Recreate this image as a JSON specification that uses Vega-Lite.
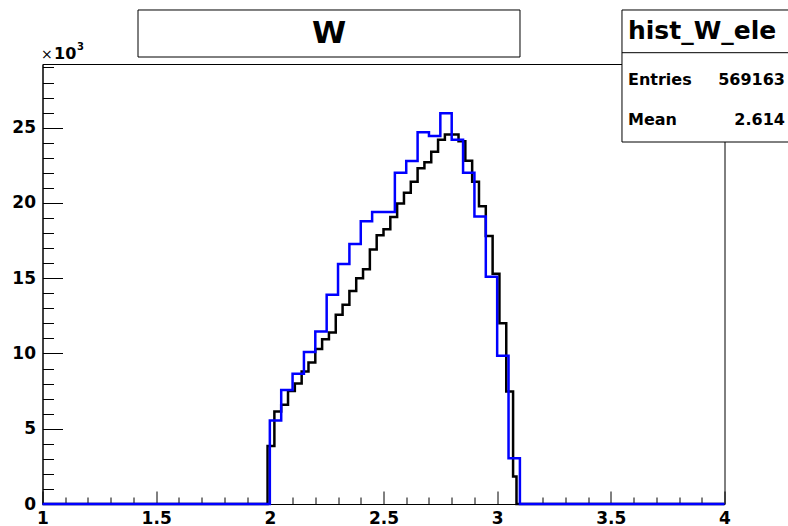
{
  "$schema": "https://vega.github.io/schema/vega-lite/v6.json",
  "width": 682,
  "height": 440,
  "autosize": {"type": "none"},
  "padding": {"left": 42.5, "top": 64, "right": 63.5, "bottom": 22},
  "background": "white",
  "config": {
    "view": {"stroke": "black", "strokeWidth": 1},
    "axis": {
      "domainColor": "black", "domainWidth": 1, "tickColor": "black", "tickWidth": 1,
      "labelColor": "black", "labelFont": "DejaVu Sans", "labelFontWeight": "bold", "labelFontSize": 17,
      "grid": false, "title": null
    }
  },
  "datasets": {
    "black": [
      {"x": 1.0, "count": 0},
      {"x": 1.99, "count": 3850},
      {"x": 2.02, "count": 6140},
      {"x": 2.05, "count": 6600},
      {"x": 2.08, "count": 7500},
      {"x": 2.11, "count": 8000},
      {"x": 2.14, "count": 8800},
      {"x": 2.17, "count": 9400},
      {"x": 2.20, "count": 10300},
      {"x": 2.23, "count": 10950},
      {"x": 2.26, "count": 11400},
      {"x": 2.29, "count": 12570},
      {"x": 2.32, "count": 13240},
      {"x": 2.35, "count": 14150},
      {"x": 2.38, "count": 15000},
      {"x": 2.41, "count": 15600},
      {"x": 2.44, "count": 16900},
      {"x": 2.47, "count": 17850},
      {"x": 2.50, "count": 18250},
      {"x": 2.53, "count": 19070},
      {"x": 2.56, "count": 19970},
      {"x": 2.59, "count": 20670},
      {"x": 2.62, "count": 21400},
      {"x": 2.65, "count": 22300},
      {"x": 2.68, "count": 22700},
      {"x": 2.71, "count": 23400},
      {"x": 2.74, "count": 24200},
      {"x": 2.77, "count": 24550},
      {"x": 2.80, "count": 24550},
      {"x": 2.83, "count": 24100},
      {"x": 2.86, "count": 22800},
      {"x": 2.89, "count": 21400},
      {"x": 2.92, "count": 19780},
      {"x": 2.95, "count": 17800},
      {"x": 2.98, "count": 15300},
      {"x": 3.01, "count": 12000},
      {"x": 3.04, "count": 7470},
      {"x": 3.07, "count": 1820},
      {"x": 3.085, "count": 0},
      {"x": 4.0, "count": 0}
    ],
    "blue": [
      {"x": 1.0, "count": 0},
      {"x": 2.00, "count": 5540},
      {"x": 2.05, "count": 7580},
      {"x": 2.10, "count": 8650},
      {"x": 2.15, "count": 10100},
      {"x": 2.20, "count": 11460},
      {"x": 2.25, "count": 13900},
      {"x": 2.30, "count": 15950},
      {"x": 2.35, "count": 17280},
      {"x": 2.40, "count": 18780},
      {"x": 2.45, "count": 19400},
      {"x": 2.50, "count": 19400},
      {"x": 2.55, "count": 22000},
      {"x": 2.60, "count": 22780},
      {"x": 2.65, "count": 24700},
      {"x": 2.70, "count": 24440},
      {"x": 2.75, "count": 25950},
      {"x": 2.80, "count": 24200},
      {"x": 2.85, "count": 22000},
      {"x": 2.90, "count": 19100},
      {"x": 2.95, "count": 15100},
      {"x": 3.00, "count": 9850},
      {"x": 3.05, "count": 3040},
      {"x": 3.10, "count": 0},
      {"x": 4.0, "count": 0}
    ],
    "one": [{}]
  },
  "resolve": {"axis": {"x": "independent", "y": "independent"}},
  "layer": [
    {
      "data": {"name": "black"},
      "mark": {"type": "line", "interpolate": "step-after", "color": "black", "strokeWidth": 2.5},
      "encoding": {
        "x": {"field": "x", "type": "quantitative", "scale": {"domain": [1, 4], "nice": false, "zero": false},
              "axis": {"orient": "bottom", "values": [1, 1.5, 2, 2.5, 3, 3.5, 4], "tickSize": -13, "labelPadding": 19, "labelFlush": false, "labelOverlap": false, "labelExpr": "format(datum.value, '')"}},
        "y": {"field": "count", "type": "quantitative", "scale": {"domain": [0, 29230], "nice": false},
              "axis": {"orient": "left", "values": [0, 5000, 10000, 15000, 20000, 25000], "tickSize": -20, "labelPadding": 27, "labelOverlap": false, "labelExpr": "format(datum.value / 1000, '')"}}
      }
    },
    {
      "data": {"name": "blue"},
      "mark": {"type": "line", "interpolate": "step-after", "color": "#0000ff", "strokeWidth": 2.5},
      "encoding": {
        "x": {"field": "x", "type": "quantitative",
              "axis": {"orient": "bottom", "values": [1.1, 1.2, 1.3, 1.4, 1.6, 1.7, 1.8, 1.9, 2.1, 2.2, 2.3, 2.4, 2.6, 2.7, 2.8, 2.9, 3.1, 3.2, 3.3, 3.4, 3.6, 3.7, 3.8, 3.9], "tickSize": -7, "labels": false, "domain": false}},
        "y": {"field": "count", "type": "quantitative",
              "axis": {"orient": "left", "values": [1000, 2000, 3000, 4000, 6000, 7000, 8000, 9000, 11000, 12000, 13000, 14000, 16000, 17000, 18000, 19000, 21000, 22000, 23000, 24000, 26000, 27000, 28000, 29000], "tickSize": -11, "labels": false, "domain": false}}
      }
    },
    {
      "data": {"name": "one"},
      "mark": {"type": "rect", "fill": "white", "stroke": "black", "strokeWidth": 1, "clip": false},
      "encoding": {
        "x": {"datum": 1.4201, "type": "quantitative", "axis": null},
        "x2": {"datum": 3.1004},
        "y": {"datum": 32818, "type": "quantitative", "axis": null},
        "y2": {"datum": 29695}
      }
    },
    {
      "data": {"name": "one"},
      "mark": {"type": "text", "font": "DejaVu Sans", "fontWeight": "bold", "fontSize": 31, "align": "center", "baseline": "middle", "color": "black", "clip": false},
      "encoding": {
        "x": {"datum": 2.2603, "type": "quantitative", "axis": null},
        "y": {"datum": 31223, "type": "quantitative", "axis": null},
        "text": {"value": "W"}
      }
    },
    {
      "data": {"name": "one"},
      "mark": {"type": "rect", "fill": "white", "stroke": "black", "strokeWidth": 1, "clip": false},
      "encoding": {
        "x": {"datum": 3.549, "type": "quantitative", "axis": null},
        "x2": {"datum": 4.3},
        "y": {"datum": 32818, "type": "quantitative", "axis": null},
        "y2": {"datum": 24048}
      }
    },
    {
      "data": {"name": "one"},
      "mark": {"type": "rule", "stroke": "black", "strokeWidth": 1, "clip": false},
      "encoding": {
        "x": {"datum": 3.549, "type": "quantitative", "axis": null},
        "x2": {"datum": 4.3},
        "y": {"datum": 29981, "type": "quantitative", "axis": null}
      }
    },
    {
      "data": {"name": "one"},
      "mark": {"type": "text", "font": "DejaVu Sans", "fontWeight": "bold", "fontSize": 25, "align": "left", "baseline": "middle", "color": "black", "clip": false},
      "encoding": {
        "x": {"datum": 3.5755, "type": "quantitative", "axis": null},
        "y": {"datum": 31422, "type": "quantitative", "axis": null},
        "text": {"value": "hist_W_ele"}
      }
    },
    {
      "data": {"name": "one"},
      "mark": {"type": "text", "font": "DejaVu Sans", "fontWeight": "bold", "fontSize": 16, "align": "left", "baseline": "middle", "color": "black", "clip": false},
      "encoding": {
        "x": {"datum": 3.5755, "type": "quantitative", "axis": null},
        "y": {"datum": 28167, "type": "quantitative", "axis": null},
        "text": {"value": "Entries"}
      }
    },
    {
      "data": {"name": "one"},
      "mark": {"type": "text", "font": "DejaVu Sans", "fontWeight": "bold", "fontSize": 16, "align": "right", "baseline": "middle", "color": "black", "clip": false},
      "encoding": {
        "x": {"datum": 4.266, "type": "quantitative", "axis": null},
        "y": {"datum": 28167, "type": "quantitative", "axis": null},
        "text": {"value": "569163"}
      }
    },
    {
      "data": {"name": "one"},
      "mark": {"type": "text", "font": "DejaVu Sans", "fontWeight": "bold", "fontSize": 16, "align": "left", "baseline": "middle", "color": "black", "clip": false},
      "encoding": {
        "x": {"datum": 3.5755, "type": "quantitative", "axis": null},
        "y": {"datum": 25510, "type": "quantitative", "axis": null},
        "text": {"value": "Mean"}
      }
    },
    {
      "data": {"name": "one"},
      "mark": {"type": "text", "font": "DejaVu Sans", "fontWeight": "bold", "fontSize": 16, "align": "right", "baseline": "middle", "color": "black", "clip": false},
      "encoding": {
        "x": {"datum": 4.266, "type": "quantitative", "axis": null},
        "y": {"datum": 25510, "type": "quantitative", "axis": null},
        "text": {"value": "2.614"}
      }
    },
    {
      "data": {"name": "one"},
      "mark": {"type": "text", "font": "DejaVu Sans", "fontWeight": "normal", "fontSize": 14, "align": "left", "baseline": "alphabetic", "color": "black", "clip": false},
      "encoding": {
        "x": {"datum": 0.9934, "type": "quantitative", "axis": null},
        "y": {"datum": 29562, "type": "quantitative", "axis": null},
        "text": {"value": "×"}
      }
    },
    {
      "data": {"name": "one"},
      "mark": {"type": "text", "font": "DejaVu Sans", "fontWeight": "bold", "fontSize": 16, "align": "left", "baseline": "alphabetic", "color": "black", "clip": false},
      "encoding": {
        "x": {"datum": 1.0506, "type": "quantitative", "axis": null},
        "y": {"datum": 29562, "type": "quantitative", "axis": null},
        "text": {"value": "10"}
      }
    },
    {
      "data": {"name": "one"},
      "mark": {"type": "text", "font": "DejaVu Sans", "fontWeight": "bold", "fontSize": 10, "align": "left", "baseline": "alphabetic", "color": "black", "clip": false},
      "encoding": {
        "x": {"datum": 1.1518, "type": "quantitative", "axis": null},
        "y": {"datum": 30160, "type": "quantitative", "axis": null},
        "text": {"value": "3"}
      }
    }
  ]
}
